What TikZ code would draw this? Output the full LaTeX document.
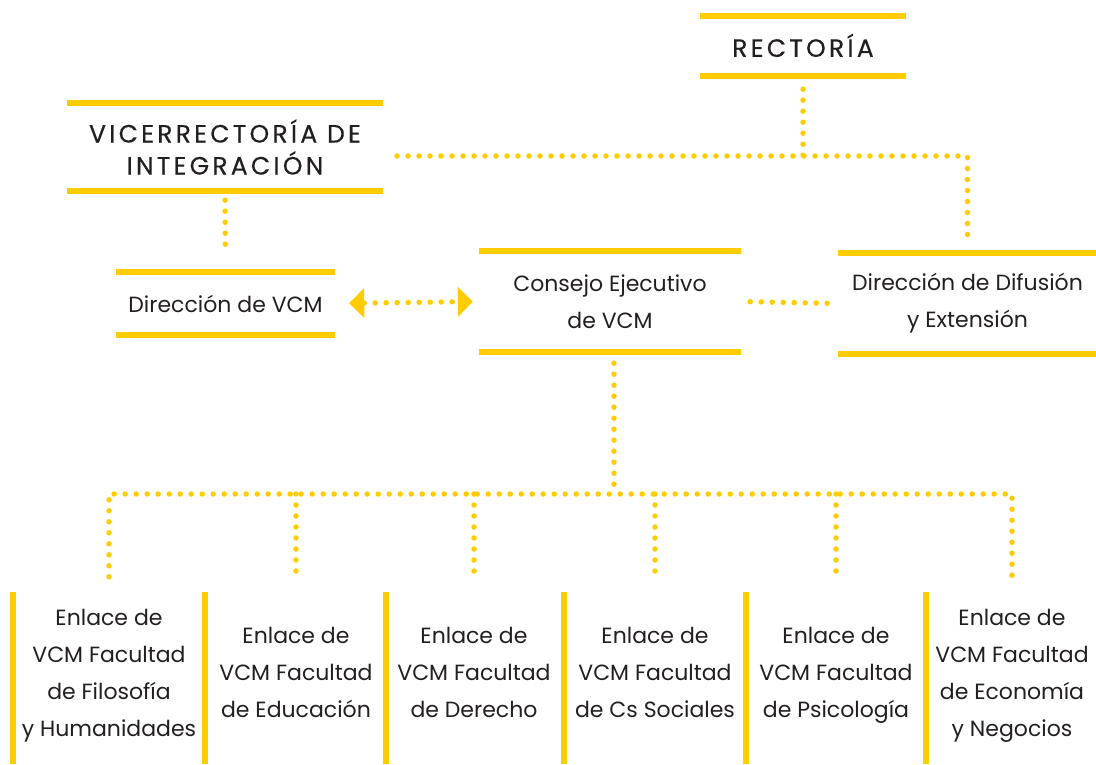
\documentclass[tikz,border=0pt]{standalone}
\usepackage{fontspec}
\setmainfont{Poppins}
\newfontfamily\hdrfont[LetterSpace=13,FakeBold=0.4]{Poppins}
\usetikzlibrary{arrows.meta,calc}
\definecolor{ylw}{HTML}{FFCC00}
\definecolor{ink}{HTML}{231F20}
\tikzset{
  box/.style={inner sep=0pt, align=center, text=ink, font=\fontsize{22}{37}\selectfont},
  hdr/.style={inner sep=0pt, align=center, text=ink, font=\hdrfont\fontsize{25}{32}\selectfont},
  hbar/.style={draw=ylw, line width=5.5pt},
  dots/.style={draw=ylw, line width=5.5pt, line cap=round, dash pattern=on 0pt off 11pt},
  tri/.tip={Triangle[length=15pt,width=30pt,line width=0pt]}
}
\begin{document}
\begin{tikzpicture}[x=1pt,y=-1pt]
\useasboundingbox (0,0) rectangle (1096,764);
% top-level boxes
\node[hdr, minimum width=206pt, minimum height=60pt] (r) at (803,46) {\raisebox{1.5pt}{RECTORÍA}};
\node[hdr, minimum width=316pt, minimum height=88pt] (vi) at (225,147) {VICERRECTORÍA DE\\INTEGRACIÓN};
\node[box, minimum width=219pt, minimum height=63pt] (dv) at (225.5,303.5) {Dirección de VCM};
\node[box, minimum width=262pt, minimum height=101pt] (ce) at (610,301.5) {Consejo Ejecutivo\\de VCM};
\node[box, minimum width=259pt, minimum height=101pt] (dd) at (967.5,303.5) {Dirección de Difusión\\y Extensión};
\foreach \n in {r,vi,dv,ce,dd}{
  \draw[hbar] (\n.north west) -- (\n.north east);
  \draw[hbar] (\n.south west) -- (\n.south east);
}
% bottom boxes
\node[box, minimum width=192pt, minimum height=172pt] (b1) at (109,678) {Enlace de\\VCM Facultad\\de Filosofía\\y Humanidades\strut};
\node[box, minimum width=182pt, minimum height=172pt] (b2) at (296,678) {Enlace de\\VCM Facultad\\de Educación\strut};
\node[box, minimum width=176pt, minimum height=172pt] (b3) at (474,678) {Enlace de\\VCM Facultad\\de Derecho\strut};
\node[box, minimum width=182pt, minimum height=172pt] (b4) at (655,678) {Enlace de\\VCM Facultad\\de Cs Sociales\strut};
\node[box, minimum width=180pt, minimum height=172pt] (b5) at (836,678) {Enlace de\\VCM Facultad\\de Psicología\strut};
\node[box, minimum width=172pt, minimum height=172pt] (b6) at (1012,678) {Enlace de\\VCM Facultad\\de Economía\\y Negocios\strut};
\foreach \n in {b1,b2,b3,b4,b5,b6}{
  \draw[hbar] (\n.north west) -- (\n.south west);
}
% connector coordinates
\coordinate (j1) at (803,156);
\coordinate (hl) at (397,156);
\coordinate (jb) at (614,494);
% connectors
\draw[dots, shorten <=13pt] (r.south) -- (j1);
\draw[dots] (hl) -| ([yshift=17pt]dd.north);
\draw[dots, shorten <=9pt, shorten >=17pt] (vi.south) -- (dv.north);
\draw[dots, tri-tri, shorten <=14pt, shorten >=6pt] (dv.east) -- (ce.west);
\draw[dots, shorten <=9pt, shorten >=7pt] (ce.east) -- (dd.west);
\draw[dots, shorten <=11pt] (ce.south -| jb) -- (jb);
\draw[dots] ([yshift=15pt]b1.north) |- (jb) -| ([yshift=15pt]b6.north);
\foreach \n in {b2,b3,b4,b5}{
  \draw[dots] (\n.north |- jb) -- ([yshift=15pt]\n.north);
}
\end{tikzpicture}
\end{document}
